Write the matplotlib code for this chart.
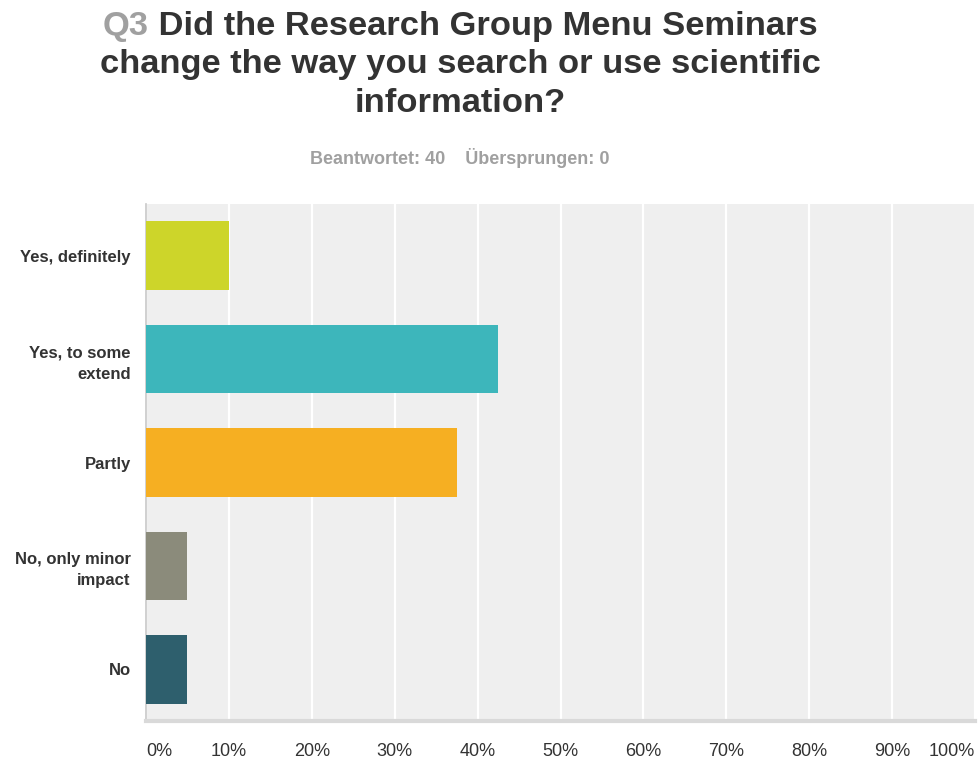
import matplotlib.pyplot as plt
import numpy as np

# survey answers (40 respondents)
categories = ["Yes, definitely", "Yes, to some\nextend", "Partly",
              "No, only minor\nimpact", "No"]
percent = [10.0, 42.5, 37.5, 5.0, 5.0]
colours = ["#cdd52a", "#3db6bb", "#f6af22", "#8b8b7b", "#2e5f6d"]
xticks = np.arange(0, 101, 10)
xticklabels = ["%d%%" % t for t in xticks]

plt.rcParams["font.family"] = ["Liberation Sans", "DejaVu Sans"]

fig = plt.figure(figsize=(9.8, 7.71), dpi=100)
ax = fig.add_axes([146 / 980, 1 - 721 / 771, 829 / 980, 517 / 771])
ax.set_facecolor("#efefef")

y = np.arange(len(categories))
ax.barh(y, percent, height=0.665, color=colours, zorder=3)

ax.set_xlim(0, 100)
ax.set_ylim(len(categories) - 0.5, -0.5)
ax.set_xticks(xticks)
ax.set_xticklabels(xticklabels, fontsize=13, color="#333333")
tl = ax.get_xticklabels()
tl[0].set_ha("left")
tl[-1].set_ha("right")
ax.set_yticks(y)
ax.set_yticklabels(categories, fontsize=12, fontweight="bold",
                   color="#333333", linespacing=1.5)
ax.tick_params(axis="x", length=0, pad=16)
ax.tick_params(axis="y", length=0, pad=11)
ax.grid(axis="x", color="white", linewidth=1.6, zorder=1)
for s in ["top", "right"]:
    ax.spines[s].set_visible(False)
ax.spines["left"].set_color("#c8c8c8")
ax.spines["left"].set_linewidth(1.2)
ax.spines["bottom"].set_color("#d9d9d9")
ax.spines["bottom"].set_linewidth(3)

# title, "Q3" in grey
cx = 460 / 980
tsize = 24.8
q3 = fig.text(0, 1 - 27 / 771, "Q3", fontsize=tsize, fontweight="bold",
              color="#a0a0a0", va="center", ha="left")
rest = fig.text(0, 1 - 27 / 771, " Did the Research Group Menu Seminars",
                fontsize=tsize, fontweight="bold", color="#333333",
                va="center", ha="left")
fig.canvas.draw()
r = fig.canvas.get_renderer()
w1 = q3.get_window_extent(r).width
w2 = rest.get_window_extent(r).width
start = cx * 980 - (w1 + w2) / 2
q3.set_x(start / 980)
rest.set_x((start + w1) / 980)

fig.text(cx, 1 - 65 / 771, "change the way you search or use scientific",
         fontsize=tsize, fontweight="bold", color="#333333",
         ha="center", va="center")
fig.text(cx, 1 - 103 / 771, "information?", fontsize=tsize, fontweight="bold",
         color="#333333", ha="center", va="center")
fig.text(cx, 1 - 158 / 771, "Beantwortet: 40    \u00dcbersprungen: 0",
         fontsize=13, fontweight="bold", color="#a0a0a0",
         ha="center", va="center")

fig.savefig("out.png", dpi=100)
